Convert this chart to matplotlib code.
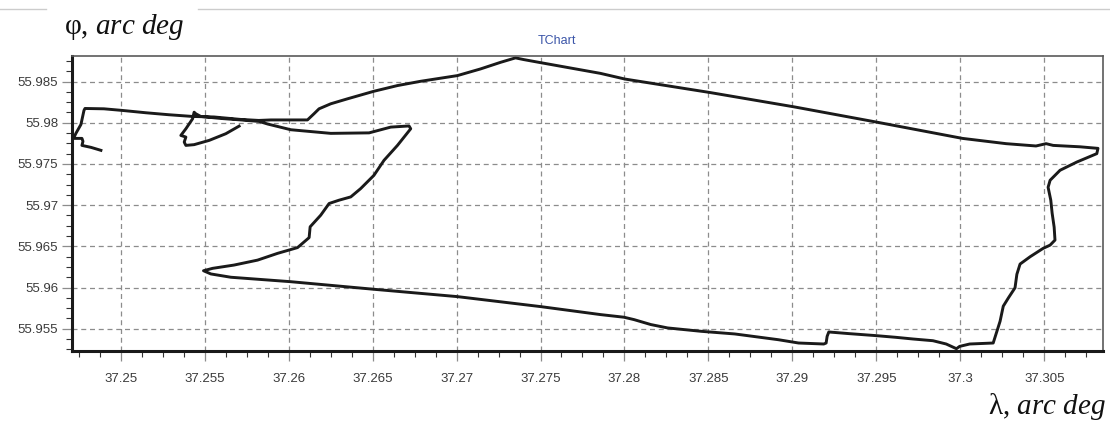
import matplotlib.pyplot as plt
import numpy as np
from matplotlib.ticker import MultipleLocator, FuncFormatter
from matplotlib.lines import Line2D

# Track (longitude, latitude in arc degrees)
lon = [37.24882, 37.24823, 37.24769, 37.24775, 37.24769, 37.24719, 37.24733, 37.24763,
       37.24781, 37.24787, 37.24900, 37.25011, 37.25150, 37.25287, 37.25430, 37.25555,
       37.25715, 37.25822, 37.25894, 37.26112, 37.26151, 37.26181, 37.26251, 37.26350,
       37.26508, 37.26648, 37.26786, 37.27005, 37.27143, 37.27262, 37.27351, 37.27401,
       37.27490, 37.27857, 37.28003, 37.28508, 37.29012, 37.29511, 37.30013, 37.30273,
       37.30451, 37.30511, 37.30553, 37.30713, 37.30820, 37.30813, 37.30694, 37.30594,
       37.30535, 37.30523, 37.30539, 37.30547, 37.30559, 37.30564, 37.30535, 37.30493,
       37.30416, 37.30356, 37.30337, 37.30326, 37.30287, 37.30256, 37.30237, 37.30196,
       37.30056, 37.29996, 37.29977, 37.29916, 37.29837, 37.29717, 37.29617, 37.29496,
       37.29337, 37.29217, 37.29207, 37.29201, 37.29187, 37.29037, 37.28917, 37.28657,
       37.28457, 37.28257, 37.28157, 37.28057, 37.27997, 37.27857, 37.27500, 37.27005,
       37.26508, 37.26013, 37.25656, 37.25537, 37.25493, 37.25547, 37.25675, 37.25815,
       37.25934, 37.26053, 37.26122, 37.26128, 37.26191, 37.26241, 37.26300, 37.26370,
       37.26429, 37.26508, 37.26568, 37.26648, 37.26727, 37.26717, 37.26608, 37.26479,
       37.26251, 37.26151, 37.26013, 37.25874, 37.25824, 37.25715, 37.25596, 37.25477,
       37.25447, 37.25437, 37.25428, 37.25388, 37.25358, 37.25388, 37.25378, 37.25388,
       37.25437, 37.25527, 37.25626, 37.25705]
lat = [55.97665, 55.97701, 55.97725, 55.97774, 55.97810, 55.97810, 55.97871, 55.97979,
       55.98149, 55.98173, 55.98169, 55.98149, 55.98121, 55.98097, 55.98076, 55.98070,
       55.98040, 55.98028, 55.98034, 55.98034, 55.98109, 55.98169, 55.98230, 55.98290,
       55.98382, 55.98451, 55.98503, 55.98572, 55.98653, 55.98733, 55.98787, 55.98766,
       55.98733, 55.98599, 55.98530, 55.98367, 55.98192, 55.98004, 55.97810, 55.97746,
       55.97718, 55.97746, 55.97725, 55.97708, 55.97689, 55.97625, 55.97523, 55.97423,
       55.97302, 55.97217, 55.97060, 55.96903, 55.96733, 55.96576, 55.96515, 55.96475,
       55.96374, 55.96285, 55.96161, 55.95997, 55.95876, 55.95774, 55.95591, 55.95327,
       55.95315, 55.95286, 55.95258, 55.95315, 55.95355, 55.95376, 55.95396, 55.95417,
       55.95441, 55.95461, 55.95408, 55.95327, 55.95315, 55.95327, 55.95367, 55.95437,
       55.95469, 55.95510, 55.95551, 55.95611, 55.95640, 55.95672, 55.95769, 55.95890,
       55.95979, 55.96071, 55.96125, 55.96165, 55.96204, 55.96233, 55.96273, 55.96333,
       55.96415, 55.96485, 55.96606, 55.96737, 55.96878, 55.97020, 55.97060, 55.97100,
       55.97201, 55.97362, 55.97544, 55.97725, 55.97927, 55.97961, 55.97947, 55.97877,
       55.97871, 55.97889, 55.97915, 55.97985, 55.98016, 55.98034, 55.98052, 55.98076,
       55.98109, 55.98128, 55.98048, 55.97927, 55.97846, 55.97826, 55.97765, 55.97725,
       55.97734, 55.97786, 55.97867, 55.97959]

x_ticks = [37.25, 37.255, 37.26, 37.265, 37.27, 37.275, 37.28, 37.285, 37.29, 37.295, 37.3, 37.305]
y_ticks = [55.955, 55.96, 55.965, 55.97, 55.975, 55.98, 55.985]

plt.rcParams['mathtext.fontset'] = 'custom'
plt.rcParams['mathtext.rm'] = 'Liberation Serif'
plt.rcParams['mathtext.it'] = 'Liberation Serif:italic'

fig = plt.figure(figsize=(11.1, 4.29), dpi=100)
ax = fig.add_axes([0.0649, 0.1818, 0.9288, 0.6877])

ax.plot(lon, lat, color='#1a1a1a', lw=2.1, solid_joinstyle='round')

ax.set_xlim(37.2471, 37.3085)
ax.set_ylim(55.9523, 55.9881)

ax.set_xticks(x_ticks)
ax.set_yticks(y_ticks)
ax.xaxis.set_minor_locator(MultipleLocator(0.00125))
ax.yaxis.set_minor_locator(MultipleLocator(0.00125))
ax.xaxis.set_major_formatter(FuncFormatter(lambda v, _: f'{v:.3f}'.rstrip('0')))
ax.yaxis.set_major_formatter(FuncFormatter(lambda v, _: f'{v:.3f}'.rstrip('0')))

ax.grid(True, which='major', color='#8c8c8c', linestyle=(0, (4, 3)), linewidth=0.9)
ax.tick_params(which='major', length=7, width=0.9, color='#8c8c8c',
               labelsize=9.5, labelcolor='#3a3a3a', pad=9)
ax.tick_params(axis='y', which='major', pad=3)
ax.tick_params(which='minor', length=4, width=0.8, color='#333333')
for lab in ax.get_xticklabels() + ax.get_yticklabels():
    lab.set_family('Liberation Sans')

for s in ('left', 'bottom'):
    ax.spines[s].set_color('#1a1a1a')
    ax.spines[s].set_linewidth(2.2)
for s in ('top', 'right'):
    ax.spines[s].set_color('#5a5a5a')
    ax.spines[s].set_linewidth(1.2)

# Title and axis captions
fig.text(0.502, 0.904, 'TChart', ha='center', va='center', fontsize=9,
         color='#3b55a8', family='Liberation Sans')
fig.text(0.058, 0.937, r'φ, $\mathit{arc\ deg}$', ha='left', va='center',
         fontsize=21, family='Liberation Serif', color='#111111')
fig.text(0.996, 0.053, r'λ, $\mathit{arc\ deg}$', ha='right', va='center',
         fontsize=21, family='Liberation Serif', color='#111111')

# light frame line at the top broken by the caption
fig.add_artist(Line2D([0, 0.041], [0.979, 0.979], color='#cccccc', lw=1))
fig.add_artist(Line2D([0.178, 1.0], [0.979, 0.979], color='#cccccc', lw=1))

plt.savefig('out.png', dpi=100)
